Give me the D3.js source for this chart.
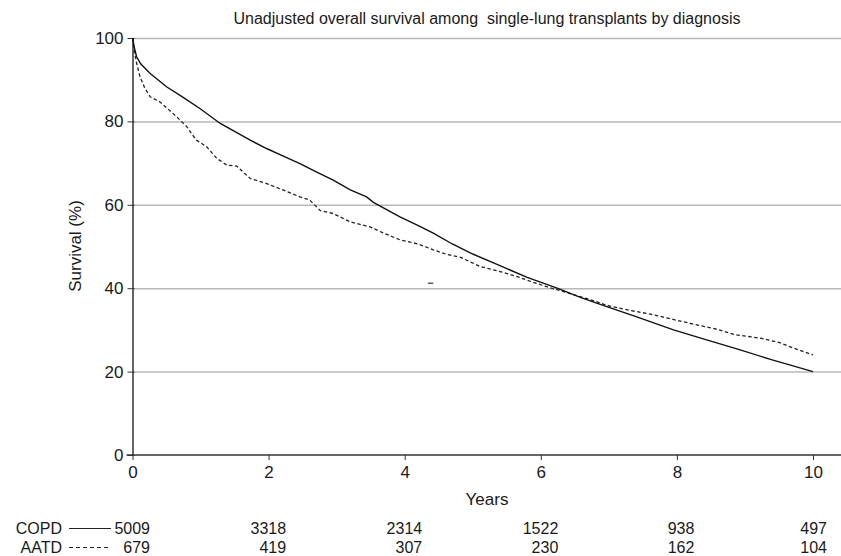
<!DOCTYPE html>
<html>
<head>
<meta charset="utf-8">
<script src="https://cdn.jsdelivr.net/npm/d3@7"></script>
<style>
  body { margin: 0; background: #fff; overflow: hidden; }
  text { font-family: "Liberation Sans", Arial, sans-serif; fill: #1a1a1a; }
</style>
</head>
<body>
<script>
// survival curves: [years, survival %]
const copd = [
    [0, 100], [0.03, 97.5], [0.06, 95.5], [0.12, 93.8], [0.26, 91.5], [0.5, 88.3], [0.75, 85.7],
    [0.99, 83.1], [1.29, 79.5], [1.5, 77.6], [1.73, 75.5], [1.97, 73.5], [2.2, 71.8], [2.46, 69.9],
    [2.7, 67.9], [2.95, 65.9], [3.2, 63.6], [3.44, 61.9], [3.54, 60.6], [3.93, 57.1], [4.2, 55],
    [4.42, 53.2], [4.7, 50.6], [5.0, 48.2], [5.4, 45.4], [5.8, 42.6], [6.24, 40], [6.6, 37.7],
    [6.97, 35.6], [7.4, 33.2], [7.95, 30], [8.4, 27.8], [8.93, 25.2], [9.4, 22.8], [10, 20]
];
const aatd = [
    [0, 100], [0.02, 97.5], [0.06, 94], [0.11, 90.7], [0.18, 88], [0.26, 85.9], [0.4, 84.7],
    [0.52, 83], [0.65, 81.1], [0.8, 78.7], [0.87, 77], [0.94, 75.5], [1.09, 73.9], [1.24, 71.1],
    [1.39, 69.5], [1.53, 69.3], [1.73, 66.3], [1.97, 65.1], [2.22, 63.5], [2.46, 61.9], [2.6, 61.2],
    [2.76, 58.6], [2.95, 57.9], [3.2, 55.9], [3.49, 54.7], [3.69, 53.2], [3.93, 51.6], [4.2, 50.6],
    [4.42, 49.2], [4.6, 48.2], [4.82, 47.4], [5.11, 45.2], [5.4, 44], [5.65, 42.8], [5.89, 41.4],
    [6.1, 40.3], [6.39, 38.9], [6.7, 37.4], [6.97, 35.9], [7.3, 34.7], [7.61, 33.8], [8.0, 32.3],
    [8.35, 31], [8.6, 30.1], [8.84, 28.9], [9.23, 28], [9.5, 27], [9.72, 25.6], [10, 24]
];

const xTicks = [0, 2, 4, 6, 8, 10];
const yTicks = [0, 20, 40, 60, 80, 100];
const groups = ["COPD", "AATD"];
const atRisk = {
    COPD: [5009, 3318, 2314, 1522, 938, 497],
    AATD: [679, 419, 307, 230, 162, 104]
};

const W = 841, H = 556;
const svg = d3.select("body").append("svg")
    .attr("width", W)
    .attr("height", H);

const xScale = d3.scaleLinear().domain([0, 10]).range([132.5, 813]);
const yScale = d3.scaleLinear().domain([0, 100]).range([455, 38]);

// gridlines, drawn as a second left axis with long ticks
const gridAxis = d3.axisLeft(yScale)
    .tickValues(yTicks.filter((d) => d > 0))
    .tickSize(-(W - xScale(0)))
    .tickFormat("");
const grid = svg.append("g")
    .attr("class", "grid")
    .attr("transform", "translate(" + xScale(0) + ",0)")
    .call(gridAxis);
grid.select(".domain").remove();
grid.selectAll(".tick line")
    .style("stroke", "#b8b8b8")
    .style("stroke-width", "1.5px")
    .style("stroke-opacity", 1);

// y axis
const yAxis = d3.axisLeft(yScale).tickValues(yTicks).tickSize(5).tickSizeOuter(0);
const gy = svg.append("g")
    .attr("class", "yaxis")
    .attr("transform", "translate(" + xScale(0) + ",0)")
    .call(yAxis);
gy.select(".domain").attr("stroke", "#333").attr("stroke-width", 1.5);
gy.selectAll(".tick line").attr("stroke", "#333").attr("x2", -5).attr("x1", 2);
gy.selectAll(".tick text")
    .attr("x", -9)
    .style("font-size", "17px")
    .style("font-family", '"Liberation Sans", Arial, sans-serif')
    .attr("fill", "#1a1a1a");

// x axis
const xAxis = d3.axisBottom(xScale).tickValues(xTicks).tickSize(5).tickSizeOuter(0);
const gx = svg.append("g")
    .attr("class", "xaxis")
    .attr("transform", "translate(0," + yScale(0) + ")")
    .call(xAxis);
gx.select(".domain").attr("d", "M" + (xScale(0) - 6) + ",0H" + W).attr("stroke", "#333").attr("stroke-width", 1.5);
gx.selectAll(".tick line").attr("stroke", "#333");
gx.selectAll(".tick text")
    .attr("y", 11)
    .style("font-size", "17px")
    .style("font-family", '"Liberation Sans", Arial, sans-serif')
    .attr("fill", "#1a1a1a");

// curves
const line = d3.line()
    .x((d) => xScale(d[0]))
    .y((d) => yScale(d[1]));

svg.append("path")
    .datum(aatd)
    .attr("fill", "none")
    .attr("stroke", "#222")
    .attr("stroke-width", 1.3)
    .attr("stroke-dasharray", "3.5,2.5")
    .attr("d", line);

svg.append("path")
    .datum(copd)
    .attr("fill", "none")
    .attr("stroke", "#111")
    .attr("stroke-width", 1.4)
    .attr("d", line);

// stray mark in the original
svg.append("line")
    .attr("x1", xScale(4.34)).attr("x2", xScale(4.42))
    .attr("y1", yScale(41.2)).attr("y2", yScale(41.2))
    .attr("stroke", "#333").attr("stroke-width", 1.2);

// titles
svg.append("text")
    .attr("x", 487).attr("y", 24)
    .attr("text-anchor", "middle")
    .attr("xml:space", "preserve")
    .style("font-size", "16px")
    .text("Unadjusted overall survival among  single-lung transplants by diagnosis");

svg.append("text")
    .attr("transform", "translate(81,246) rotate(-90)")
    .attr("text-anchor", "middle")
    .style("font-size", "17px")
    .text("Survival (%)");

svg.append("text")
    .attr("x", 487).attr("y", 505)
    .attr("text-anchor", "middle")
    .style("font-size", "17px")
    .text("Years");

// numbers at risk
const rowY = {COPD: 534, AATD: 553};
groups.forEach((g) => {
    const row = svg.append("g").attr("class", "risk");
    row.append("text")
        .attr("x", 62).attr("y", rowY[g])
        .attr("text-anchor", "end")
        .style("font-size", "16px")
        .text(g);
    row.append("line")
        .attr("x1", 69).attr("x2", 111)
        .attr("y1", rowY[g] - 5.5).attr("y2", rowY[g] - 5.5)
        .attr("stroke", "#222")
        .attr("stroke-width", 1.2)
        .attr("stroke-dasharray", g === "AATD" ? "4,3" : null);
    row.selectAll("text.n")
        .data(atRisk[g])
        .join("text")
        .attr("class", "n")
        .attr("x", (d, i) => xScale(xTicks[i]) + (i === xTicks.length - 1 ? 14 : 17.5))
        .attr("y", rowY[g])
        .attr("text-anchor", "end")
        .style("font-size", "16px")
        .text((d) => d);
});
</script>
</body>
</html>
